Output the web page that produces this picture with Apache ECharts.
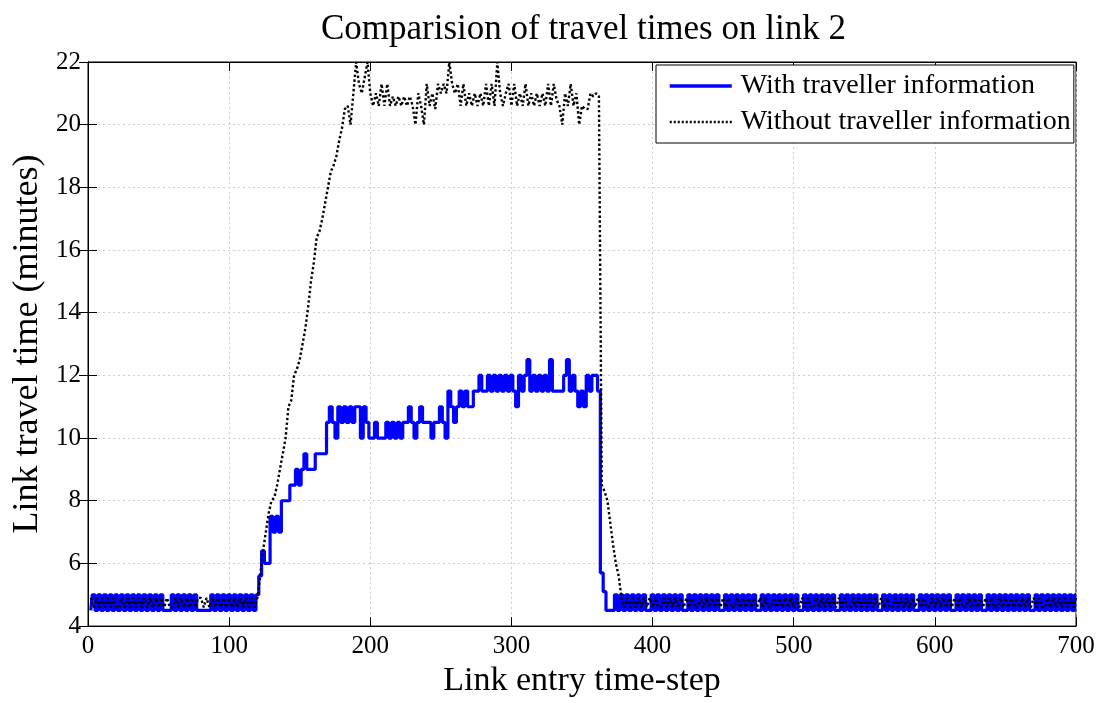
<!DOCTYPE html>
<html>
<head>
<meta charset="utf-8">
<script src="https://cdn.jsdelivr.net/npm/echarts@6/dist/echarts.min.js"></script>
<style>
html,body{margin:0;padding:0;background:#fff;}
#chart{width:1104px;height:703px;}
</style>
</head>
<body>
<div id="chart"></div>
<script>
// Text
const chartTitle = 'Comparision of travel times on link 2';
const xAxisName = 'Link entry time-step';
const yAxisName = 'Link travel time (minutes)';
const seriesNames = ['With traveller information', 'Without traveller information'];
const xTicks = [0, 100, 200, 300, 400, 500, 600, 700];
const yTicks = [4, 6, 8, 10, 12, 14, 16, 18, 20, 22];

// Link entry time-steps 2,4,...,700
// With traveller information
const withEarly = [ // t 2..120
  4.5,5,4.5,5,4.5,5,4.5,5,4.5,5,
  4.5,5,4.5,5,4.5,5,4.5,5,4.5,5,
  4.5,5,4.5,5,4.5,5,4.5,4.5,4.5,5,
  4.5,5,4.5,5,4.5,5,4.5,5,4.5,4.5,
  4.5,4.5,4.5,5,4.5,5,4.5,5,4.5,5,
  4.5,5,4.5,5,4.5,5,4.5,5,4.5,5
];
const withRise = [ // t 122..240
  5.6,6.4,6,6,7.5,7,7.5,7,8,8,
  8,8.5,8.5,9,8.5,9,9.5,9,9,9,
  9.5,9.5,9.5,9.5,10.5,11,10.5,10,11,10.5,
  11,10.5,11,10.5,11,11,10,11,10.5,10,
  10,10.5,10,10,10,10.5,10,10.5,10,10.5,
  10,10.5,10.5,11,10.5,10,10.5,11,10.5,10.5
];
const withPeak = [ // t 242..362
  10.5,10,10.5,10.5,11,10.5,10,11.5,11,10.5,
  11,11.5,11,11.5,11,11,11.5,11.5,12,11.5,
  11.5,12,11.5,12,11.5,12,11.5,12,11.5,12,
  11.5,11,12,11.5,12,12.5,11.5,12,11.5,12,
  11.5,12,11.5,12.5,11.5,11.5,11.5,11.5,12,12.5,
  11.5,12,11.5,11,11.5,11,12,11.5,12,12,
  11.5
];
const withDrop = [5.7,5.1,4.5,4.5,4.5]; // t 364..372
const withLate = [ // t 374..700
  5,4.5,5,4.5,5,4.5,5,4.5,5,4.5,
  5,4.5,4.5,5,4.5,5,4.5,5,4.5,5,
  4.5,5,4.5,5,4.5,4.5,5,4.5,5,4.5,
  5,4.5,5,4.5,5,4.5,5,4.5,4.5,5,
  4.5,5,4.5,5,4.5,5,4.5,5,4.5,5,
  4.5,4.5,5,4.5,5,4.5,5,4.5,5,4.5,
  5,4.5,5,4.5,5,4.5,4.5,5,4.5,5,
  4.5,5,4.5,5,4.5,5,4.5,5,4.5,4.5,
  5,4.5,5,4.5,5,4.5,5,4.5,5,4.5,
  5,4.5,5,4.5,4.5,5,4.5,5,4.5,5,
  4.5,5,4.5,5,4.5,5,4.5,4.5,5,4.5,
  5,4.5,5,4.5,5,4.5,5,4.5,5,4.5,
  4.5,5,4.5,5,4.5,5,4.5,5,4.5,5,
  4.5,4.5,5,4.5,5,4.5,5,4.5,5,4.5,
  5,4.5,5,4.5,5,4.5,5,4.5,4.5,5,
  4.5,5,4.5,5,4.5,5,4.5,5,4.5,5,
  4.5,5,4.5,5
];

// Without traveller information
const withoutEarly = [ // t 2..120
  4.9,4.6,4.9,4.6,4.9,4.6,4.9,4.6,4.9,4.6,
  4.6,4.9,4.6,4.9,4.6,4.9,4.6,4.9,4.6,4.9,
  4.6,4.9,4.6,4.9,4.6,4.9,4.6,4.9,4.6,4.6,
  4.9,4.6,4.9,4.6,4.9,4.6,4.9,4.6,4.9,4.9,
  4.6,4.9,4.6,4.9,4.6,4.9,4.6,4.9,4.6,4.9,
  4.6,4.9,4.6,4.9,4.6,4.9,4.6,4.9,4.6,4.9
];
const withoutRise = [ // t 122..240
  5.6,6.4,7,7.6,8,8.1,8.5,9,9.5,10,
  11,11.2,12,12.2,12.5,13,13.5,14.2,15,15.6,
  16.4,16.6,17,17.5,18,18.5,18.7,19,19.5,19.9,
  20.5,20.6,20,21,22,21.3,21,21.5,22,21,
  20.6,21,20.6,21.3,20.6,21.3,20.6,20.9,20.6,20.9,
  20.6,20.9,20.6,20.9,20.6,20,21,20.6,20,21.3
];
const withoutPeak = [ // t 242..362
  20.6,21,20.5,21.3,21,21.3,21,22,21.3,21,
  21.3,20.6,21.3,20.6,21,20.6,21,20.6,21,20.6,
  21.3,20.6,21.3,20.6,22,21,20.6,21,21.3,20.6,
  21.3,20.6,21,20.6,21.3,20.6,21,20.6,21,20.6,
  21,20.6,21.3,20.6,21.3,20.8,20.6,20,21,20.6,
  21.3,20.6,21,20,20.6,20.5,20.5,21,20.9,21,
  20.9
];
const withoutDrop = [8.5,8.3,8,7.3,6.6,6,5.6,4.9,4.6]; // t 364..380
const withoutLate = [ // t 382..700
  4.9,4.6,4.9,4.6,4.9,4.6,4.9,4.6,4.9,4.6,
  4.9,4.6,4.6,4.9,4.6,4.9,4.6,4.9,4.6,4.9,
  4.6,4.9,4.6,4.9,4.6,4.6,4.9,4.6,4.9,4.6,
  4.9,4.6,4.9,4.6,4.9,4.6,4.9,4.6,4.6,4.9,
  4.6,4.9,4.6,4.9,4.6,4.9,4.6,4.9,4.6,4.9,
  4.6,4.6,4.9,4.6,4.9,4.6,4.9,4.6,4.9,4.6,
  4.9,4.6,4.9,4.6,4.9,4.6,4.6,4.9,4.6,4.9,
  4.6,4.9,4.6,4.9,4.6,4.9,4.6,4.9,4.6,4.6,
  4.9,4.6,4.9,4.6,4.9,4.6,4.9,4.6,4.9,4.6,
  4.9,4.6,4.9,4.6,4.6,4.9,4.6,4.9,4.6,4.9,
  4.6,4.9,4.6,4.9,4.6,4.9,4.6,4.6,4.9,4.6,
  4.9,4.6,4.9,4.6,4.9,4.6,4.9,4.6,4.9,4.6,
  4.6,4.9,4.6,4.9,4.6,4.9,4.6,4.9,4.6,4.9,
  4.6,4.6,4.9,4.6,4.9,4.6,4.9,4.6,4.9,4.6,
  4.9,4.6,4.9,4.6,4.9,4.6,4.9,4.6,4.6,4.9,
  4.6,4.9,4.6,4.9,4.6,4.9,4.6,4.9,4.6,4.9
];

const withInfo = [].concat(withEarly, withRise, withPeak, withDrop, withLate);
const withoutInfo = [].concat(withoutEarly, withoutRise, withoutPeak, withoutDrop, withoutLate);
const timeSteps = withInfo.map((_, i) => 2 * (i + 1));

const FONT = '"Liberation Serif", "Times New Roman", serif';
const chart = echarts.init(document.getElementById('chart'), null, {renderer: 'canvas'});

const gridLine = {show: true, lineStyle: {color: '#cfcfcf', type: [2, 3], width: 1}};
const tickIn = {show: true, inside: true, length: 9, lineStyle: {color: '#000', width: 1}};

chart.setOption({
  backgroundColor: '#fff',
  animation: false,
  title: {
    text: chartTitle, left: 316, top: 7,
    textStyle: {fontFamily: FONT, fontSize: 35, fontWeight: 'normal', color: '#000'}
  },
  legend: {
    orient: 'vertical', left: 656, top: 65,
    padding: [7, 3, 7, 12], itemGap: 8, itemWidth: 62, itemHeight: 14,
    backgroundColor: '#fff', borderColor: '#000', borderWidth: 1, borderRadius: 0,
    itemStyle: {opacity: 0},
    textStyle: {fontFamily: FONT, fontSize: 28, color: '#000', lineHeight: 28, padding: [0, 0, 0, 4]},
    data: [
      {name: seriesNames[0], lineStyle: {color: '#0000ff', width: 3.5}},
      {name: seriesNames[1], lineStyle: {color: '#000', width: 2.4, type: [2, 2]}}
    ]
  },
  grid: {left: 88, right: 28, top: 62, bottom: 72, show: true, borderColor: '#000', borderWidth: 1},
  xAxis: [{
    type: 'value', min: xTicks[0], max: xTicks[xTicks.length - 1], interval: 100,
    name: xAxisName, nameLocation: 'middle', nameGap: 36,
    nameTextStyle: {fontFamily: FONT, fontSize: 34, color: '#000'},
    axisLine: {show: true, lineStyle: {color: '#000'}},
    axisTick: tickIn, splitLine: gridLine,
    axisLabel: {fontFamily: FONT, fontSize: 25, color: '#000', margin: 8}
  }, {
    type: 'value', position: 'top', min: xTicks[0], max: xTicks[xTicks.length - 1], interval: 100,
    axisLine: {show: true, lineStyle: {color: '#000'}}, axisTick: tickIn,
    axisLabel: {show: false}, splitLine: {show: false}
  }],
  yAxis: [{
    type: 'value', min: yTicks[0], max: yTicks[yTicks.length - 1], interval: 2,
    name: yAxisName, nameLocation: 'middle', nameGap: 42, nameRotate: 90,
    nameTextStyle: {fontFamily: FONT, fontSize: 36, color: '#000'},
    axisLine: {show: true, lineStyle: {color: '#000'}},
    axisTick: tickIn, splitLine: gridLine,
    axisLabel: {fontFamily: FONT, fontSize: 25, color: '#000', margin: 7}
  }, {
    type: 'value', position: 'right', min: yTicks[0], max: yTicks[yTicks.length - 1], interval: 2,
    axisLine: {show: true, lineStyle: {color: '#000'}}, axisTick: tickIn,
    axisLabel: {show: false}, splitLine: {show: false}
  }],
  series: [{
    name: seriesNames[0], type: 'line', showSymbol: false, symbol: 'none', step: 'middle',
    data: timeSteps.map((t, i) => [t, withInfo[i]]),
    lineStyle: {color: '#0000ff', width: 3.2}, itemStyle: {color: '#0000ff', opacity: 0}, z: 2
  }, {
    name: seriesNames[1], type: 'line', showSymbol: false, symbol: 'none',
    data: timeSteps.map((t, i) => [t, withoutInfo[i]]),
    lineStyle: {color: '#000', width: 2.4, type: [2.4, 2.4]}, itemStyle: {color: '#000', opacity: 0}, z: 3
  }]
});
</script>
</body>
</html>
